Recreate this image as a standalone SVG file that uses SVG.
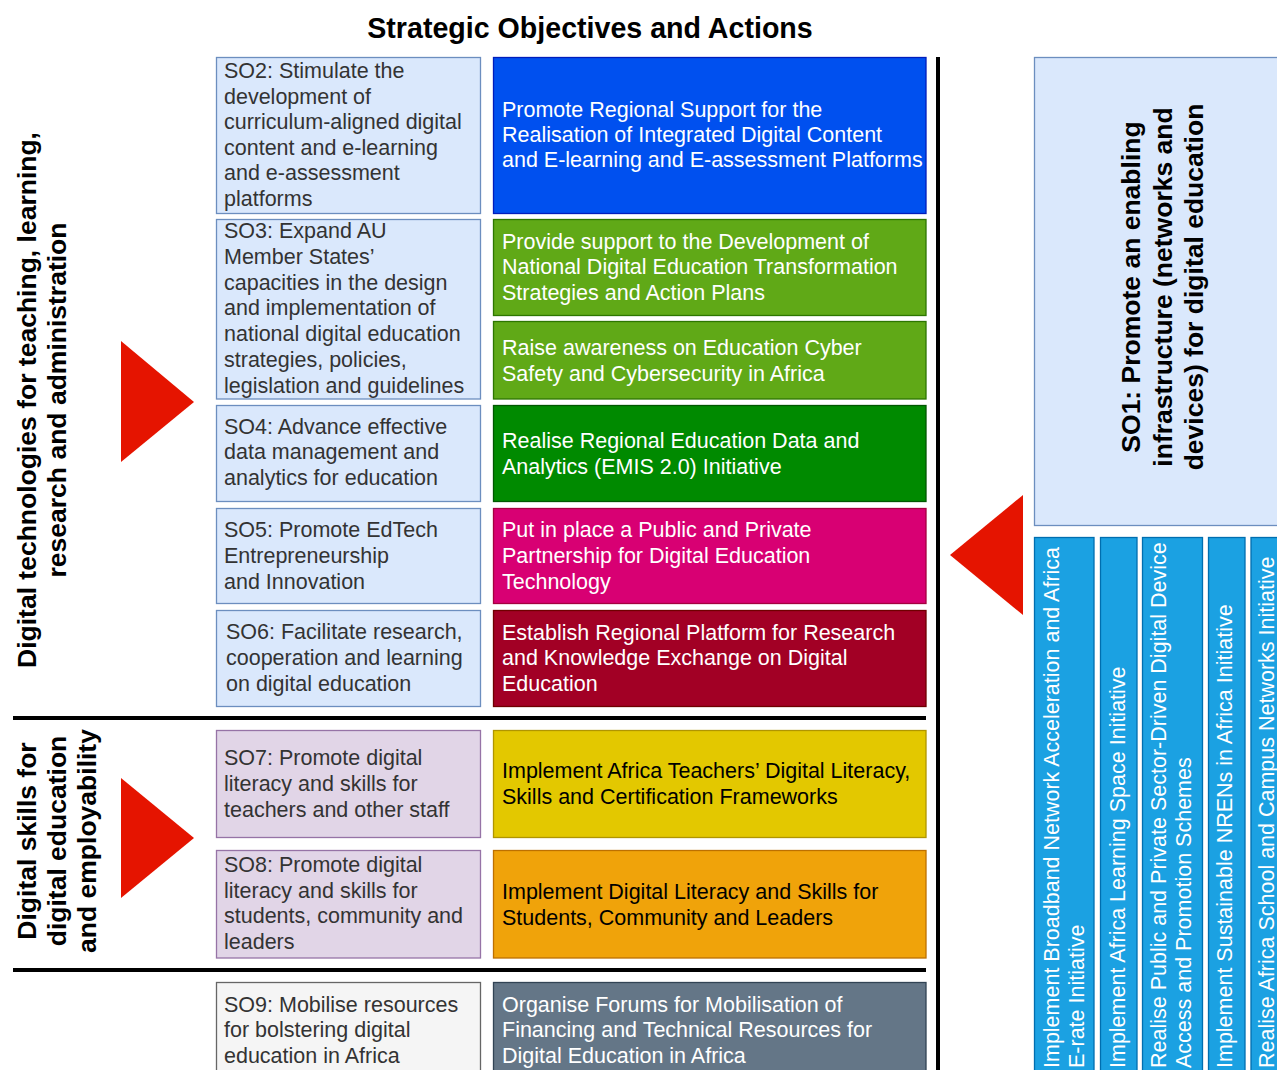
<svg xmlns="http://www.w3.org/2000/svg" width="1277" height="1070" viewBox="0 0 1277 1070">
<style>
text{font-family:"Liberation Sans",Arial,sans-serif}
.so{fill:#dae8fc;stroke:#6c8ebf;stroke-width:1.3}
.sop{fill:#e1d5e7;stroke:#9673a6;stroke-width:1.3}
.sog{fill:#f5f5f5;stroke:#666666;stroke-width:1.3}
.st{font-size:21.5px;fill:#333333}
.at{font-size:21.5px;fill:#ffffff}
.atd{font-size:21.5px;fill:#000000}
.lbl{font-size:26.5px;font-weight:bold;fill:#000000;text-anchor:middle}
.col{fill:#1ba1e2;stroke:#006eaf;stroke-width:1.3}
.tri{fill:#e51400}
.div{stroke:#000000;stroke-width:4;fill:none}
</style>
<rect width="1277" height="1070" fill="#ffffff"/>
<text x="590" y="38" font-size="28.6" font-weight="bold" text-anchor="middle">Strategic Objectives and Actions</text>

<g id="label-tech">
<text class="lbl" transform="translate(36,400) rotate(-90)">Digital technologies for teaching, learning,</text>
<text class="lbl" transform="translate(66,400) rotate(-90)">research and administration</text>
</g>
<g id="label-skills">
<text class="lbl" transform="translate(36,841) rotate(-90)">Digital skills for</text>
<text class="lbl" transform="translate(66,841) rotate(-90)">digital education</text>
<text class="lbl" transform="translate(96,841) rotate(-90)">and employability</text>
</g>

<g id="so2"><rect class="so" x="216.5" y="57.5" width="264" height="156"/>
<text class="st" x="224"><tspan x="224" y="78">SO2: Stimulate the</tspan><tspan x="224" y="103.6">development of</tspan><tspan x="224" y="129.2">curriculum-aligned digital</tspan><tspan x="224" y="154.8">content and e-learning</tspan><tspan x="224" y="180.4">and e-assessment</tspan><tspan x="224" y="206">platforms</tspan></text></g>
<g id="so3"><rect class="so" x="216.5" y="219.5" width="264" height="179.5"/>
<text class="st"><tspan x="224" y="238">SO3: Expand AU</tspan><tspan x="224" y="263.8">Member States’</tspan><tspan x="224" y="289.6">capacities in the design</tspan><tspan x="224" y="315.4">and implementation of</tspan><tspan x="224" y="341.2">national digital education</tspan><tspan x="224" y="367">strategies, policies,</tspan><tspan x="224" y="392.7">legislation and guidelines</tspan></text></g>
<g id="so4"><rect class="so" x="216.5" y="405.5" width="264" height="96"/>
<text class="st"><tspan x="224" y="433.5">SO4: Advance effective</tspan><tspan x="224" y="459.3">data management and</tspan><tspan x="224" y="485">analytics for education</tspan></text></g>
<g id="so5"><rect class="so" x="216.5" y="508.5" width="264" height="95"/>
<text class="st"><tspan x="224" y="537">SO5: Promote EdTech</tspan><tspan x="224" y="562.8">Entrepreneurship</tspan><tspan x="224" y="588.6">and Innovation</tspan></text></g>
<g id="so6"><rect class="so" x="216.5" y="610.5" width="264" height="96"/>
<text class="st"><tspan x="226" y="639">SO6: Facilitate research,</tspan><tspan x="226" y="664.8">cooperation and learning</tspan><tspan x="226" y="690.6">on digital education</tspan></text></g>
<g id="so7"><rect class="sop" x="216.5" y="730.5" width="264" height="107"/>
<text class="st"><tspan x="224" y="765">SO7: Promote digital</tspan><tspan x="224" y="790.8">literacy and skills for</tspan><tspan x="224" y="816.6">teachers and other staff</tspan></text></g>
<g id="so8"><rect class="sop" x="216.5" y="850.5" width="264" height="107.5"/>
<text class="st"><tspan x="224" y="871.7">SO8: Promote digital</tspan><tspan x="224" y="897.5">literacy and skills for</tspan><tspan x="224" y="923.3">students, community and</tspan><tspan x="224" y="949">leaders</tspan></text></g>
<g id="so9"><rect class="sog" x="216.5" y="982.5" width="264" height="120"/>
<text class="st"><tspan x="224" y="1011.5">SO9: Mobilise resources</tspan><tspan x="224" y="1037.3">for bolstering digital</tspan><tspan x="224" y="1063">education in Africa</tspan></text></g>

<g id="a2"><rect x="493.5" y="57.5" width="432.5" height="156" fill="#0050ef" stroke="#001dbc" stroke-width="1.3"/>
<text class="at"><tspan x="502" y="116.5">Promote Regional Support for the</tspan><tspan x="502" y="141.8">Realisation of Integrated Digital Content</tspan><tspan x="502" y="167">and E-learning and E-assessment Platforms</tspan></text></g>
<g id="a3a"><rect x="493.5" y="219.5" width="432.5" height="96" fill="#60a917" stroke="#2d7600" stroke-width="1.3"/>
<text class="at"><tspan x="502" y="248.5">Provide support to the Development of</tspan><tspan x="502" y="274.3">National Digital Education Transformation</tspan><tspan x="502" y="300">Strategies and Action Plans</tspan></text></g>
<g id="a3b"><rect x="493.5" y="321.5" width="432.5" height="77.5" fill="#60a917" stroke="#2d7600" stroke-width="1.3"/>
<text class="at"><tspan x="502" y="354.8">Raise awareness on Education Cyber</tspan><tspan x="502" y="380.6">Safety and Cybersecurity in Africa</tspan></text></g>
<g id="a4"><rect x="493.5" y="405.5" width="432.5" height="96" fill="#008a00" stroke="#005700" stroke-width="1.3"/>
<text class="at"><tspan x="502" y="448">Realise Regional Education Data and</tspan><tspan x="502" y="473.8">Analytics (EMIS 2.0) Initiative</tspan></text></g>
<g id="a5"><rect x="493.5" y="508.5" width="432.5" height="95" fill="#d80073" stroke="#a50040" stroke-width="1.3"/>
<text class="at"><tspan x="502" y="537">Put in place a Public and Private</tspan><tspan x="502" y="562.8">Partnership for Digital Education</tspan><tspan x="502" y="588.6">Technology</tspan></text></g>
<g id="a6"><rect x="493.5" y="610.5" width="432.5" height="96" fill="#a20025" stroke="#6f0000" stroke-width="1.3"/>
<text class="at"><tspan x="502" y="639.5">Establish Regional Platform for Research</tspan><tspan x="502" y="665.3">and Knowledge Exchange on Digital</tspan><tspan x="502" y="691">Education</tspan></text></g>
<g id="a7"><rect x="493.5" y="730.5" width="432.5" height="107" fill="#e3c800" stroke="#b09500" stroke-width="1.3"/>
<text class="atd"><tspan x="502" y="778.3">Implement Africa Teachers’ Digital Literacy,</tspan><tspan x="502" y="804.1">Skills and Certification Frameworks</tspan></text></g>
<g id="a8"><rect x="493.5" y="850.5" width="432.5" height="107.5" fill="#f0a30a" stroke="#bd7000" stroke-width="1.3"/>
<text class="atd"><tspan x="502" y="898.8">Implement Digital Literacy and Skills for</tspan><tspan x="502" y="924.6">Students, Community and Leaders</tspan></text></g>
<g id="a9"><rect x="493.5" y="982.5" width="432.5" height="120" fill="#647687" stroke="#314354" stroke-width="1.3"/>
<text class="at"><tspan x="502" y="1011.5">Organise Forums for Mobilisation of</tspan><tspan x="502" y="1037.3">Financing and Technical Resources for</tspan><tspan x="502" y="1063">Digital Education in Africa</tspan></text></g>

<g id="so1"><rect class="so" x="1034.5" y="57.5" width="260" height="468"/>
<text class="lbl" transform="translate(1140,287) rotate(-90)">SO1: Promote an enabling</text>
<text class="lbl" transform="translate(1171.5,287) rotate(-90)">infrastructure (networks and</text>
<text class="lbl" transform="translate(1203,287) rotate(-90)">devices) for digital education</text></g>

<g id="c1"><rect class="col" x="1034.5" y="537.5" width="59.5" height="560"/>
<text class="at" transform="translate(1059,1068) rotate(-90)">Implement Broadband Network Acceleration and Africa</text>
<text class="at" transform="translate(1084,1068) rotate(-90)">E-rate Initiative</text></g>
<g id="c2"><rect class="col" x="1100.5" y="537.5" width="36.5" height="560"/>
<text class="at" transform="translate(1125,1068) rotate(-90)">Implement Africa Learning Space Initiative</text></g>
<g id="c3"><rect class="col" x="1142.5" y="537.5" width="60" height="560"/>
<text class="at" transform="translate(1165.5,1068) rotate(-90)">Realise Public and Private Sector-Driven Digital Device</text>
<text class="at" transform="translate(1190.5,1068) rotate(-90)">Access and Promotion Schemes</text></g>
<g id="c4"><rect class="col" x="1208.5" y="537.5" width="36.5" height="560"/>
<text class="at" transform="translate(1232,1068) rotate(-90)">Implement Sustainable NRENs in Africa Initiative</text></g>
<g id="c5"><rect class="col" x="1251" y="537.5" width="60" height="560"/>
<text class="at" transform="translate(1274,1068) rotate(-90)">Realise Africa School and Campus Networks Initiative</text></g>

<g id="connectors">
<path class="div" d="M13 718H926M13 970H926M938 57V1070"/>
<polygon class="tri" points="121,341 194,402 121,462"/>
<polygon class="tri" points="121,778 194,838 121,898"/>
<polygon class="tri" points="1023,495 950,555 1023,615"/>
</g>
</svg>
